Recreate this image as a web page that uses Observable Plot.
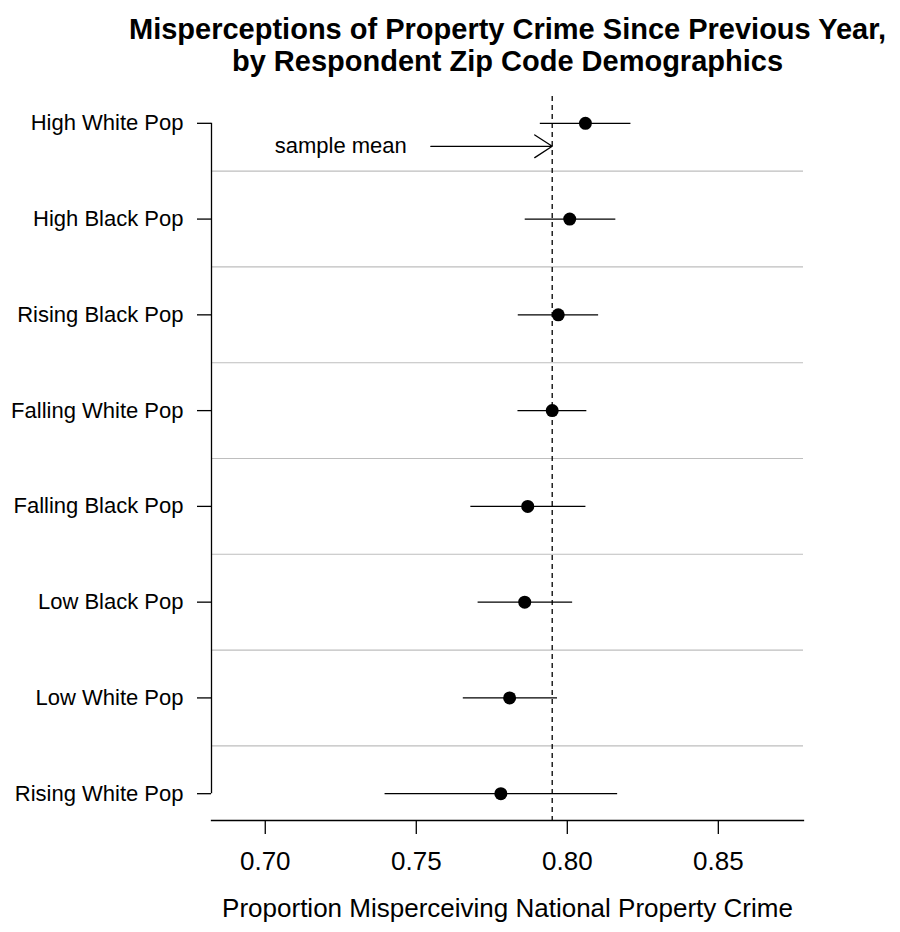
<!DOCTYPE html>
<html>
<head>
<meta charset="utf-8">
<script src="https://cdn.jsdelivr.net/npm/d3@7"></script>
<script src="https://cdn.jsdelivr.net/npm/@observablehq/plot@0.6"></script>
<style>
  html, body { margin: 0; padding: 0; background: #fff; }
  #chart svg { display: block; }
</style>
</head>
<body>
<div id="chart"></div>
<script>
// ---- data ----
const categories = [
  "High White Pop", "High Black Pop", "Rising Black Pop", "Falling White Pop",
  "Falling Black Pop", "Low Black Pop", "Low White Pop", "Rising White Pop"
];
const estimates = [0.8060, 0.8008, 0.7970, 0.7950, 0.7869, 0.7859, 0.7809, 0.7780];
const lowerCI   = [0.7909, 0.7859, 0.7836, 0.7835, 0.7679, 0.7703, 0.7654, 0.7395];
const upperCI   = [0.8209, 0.8159, 0.8102, 0.8063, 0.8060, 0.8016, 0.7966, 0.8165];
const sampleMean = 0.795;
const xTicks = [0.70, 0.75, 0.80, 0.85];
const titleLines = [
  "Misperceptions of Property Crime Since Previous Year,",
  "by Respondent Zip Code Demographics"
];
const xLabel = "Proportion Misperceiving National Property Crime";
const annotationText = "sample mean";
const annotationX = 0.725;   // text centre
const arrowStartX = 0.7548;
const annotationY = 1.24;    // in category-row units

// ---- derived table ----
const rows = categories.map((c, i) => ({
  cat: c, idx: i + 1, est: estimates[i], lo: lowerCI[i], hi: upperCI[i]
}));
const gridPos = categories.slice(1).map((_, i) => i + 1.5);
const xDomain = [0.6822, 0.8782];
const yDomain = [0.72, categories.length + 0.28];

const font = "'Liberation Sans', Arial, Helvetica, sans-serif";
const lw = 1.3;

const chart = Plot.plot({
  width: 900,
  height: 932,
  marginLeft: 211,
  marginRight: 97,
  marginTop: 96,
  marginBottom: 112,
  style: { fontFamily: font, color: "#000", background: "#fff" },
  x: { domain: xDomain },
  y: { domain: yDomain, reverse: true },
  marks: [
    // horizontal separators between rows
    Plot.ruleY(gridPos, { stroke: "#bebebe", strokeWidth: 1.2 }),
    // sample mean line
    Plot.ruleX([sampleMean], { stroke: "#000", strokeWidth: lw, strokeDasharray: "5,4" }),
    // confidence intervals
    Plot.link(rows, { x1: "lo", x2: "hi", y1: "idx", y2: "idx", stroke: "#000", strokeWidth: lw }),
    // point estimates
    Plot.dot(rows, { x: "est", y: "idx", r: 6.5, fill: "#000", stroke: "none" }),
    // annotation
    Plot.arrow([{ x1: arrowStartX, x2: sampleMean, y: annotationY }], {
      x1: "x1", x2: "x2", y1: "y", y2: "y",
      stroke: "#000", strokeWidth: lw, headLength: 24, headAngle: 66, insetEnd: 0, insetStart: 0
    }),
    Plot.text([annotationText], {
      x: () => annotationX, y: () => annotationY, text: d => d,
      fontSize: 22, textAnchor: "middle", fill: "#000"
    }),
    // y axis line (from first to last tick) and x axis line
    Plot.ruleX([xDomain[0]], { y1: 1, y2: categories.length, stroke: "#000", strokeWidth: lw }),
    Plot.frame({ anchor: "bottom", stroke: "#000", strokeWidth: lw }),
    // axes
    Plot.axisY({
      ticks: rows.map(d => d.idx),
      tickFormat: i => categories[i - 1],
      tickSize: 14, tickPadding: 14, fontSize: 22, label: null,
      stroke: "#000", strokeWidth: lw, fill: "#000"
    }),
    Plot.axisX({
      ticks: xTicks, tickFormat: d3.format(".2f"),
      tickSize: 14, tickPadding: 17, fontSize: 26, label: null,
      stroke: "#000", strokeWidth: lw, fill: "#000"
    }),
    // axis title
    Plot.text([xLabel], {
      frameAnchor: "bottom", text: d => d, dy: 96, fontSize: 26,
      lineAnchor: "bottom", fill: "#000"
    }),
    // title lines
    Plot.text([titleLines[0]], {
      frameAnchor: "top", text: d => d, dy: -58, fontSize: 29, fontWeight: "bold",
      lineAnchor: "bottom", fill: "#000"
    }),
    Plot.text([titleLines[1]], {
      frameAnchor: "top", text: d => d, dy: -26, fontSize: 29, fontWeight: "bold",
      lineAnchor: "bottom", fill: "#000"
    })
  ]
});
document.getElementById("chart").appendChild(chart);
</script>
</body>
</html>
